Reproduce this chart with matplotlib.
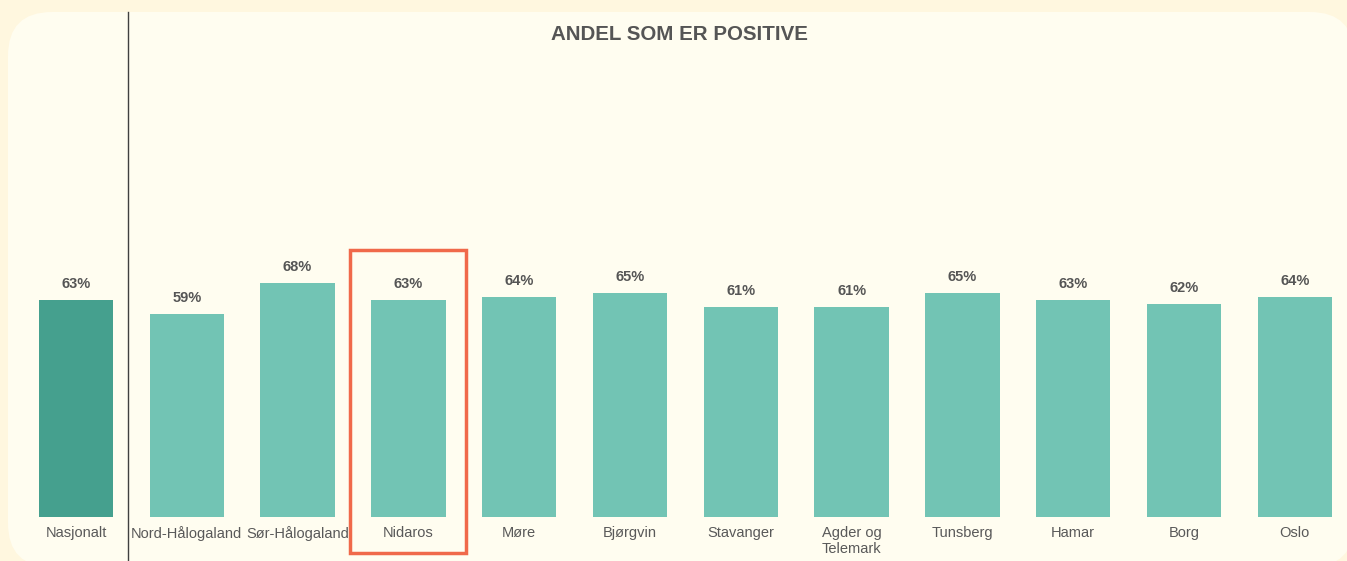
import matplotlib.pyplot as plt
from matplotlib.patches import FancyBboxPatch, Rectangle
from matplotlib.transforms import IdentityTransform, blended_transform_factory

plt.rcParams['font.family'] = ['Liberation Sans', 'DejaVu Sans']

categories = ['Nasjonalt', 'Nord-Hålogaland', 'Sør-Hålogaland', 'Nidaros', 'Møre',
              'Bjørgvin', 'Stavanger', 'Agder og\nTelemark', 'Tunsberg', 'Hamar',
              'Borg', 'Oslo']
values = [63, 59, 68, 63, 64, 65, 61, 61, 65, 63, 62, 64]
highlight = 'Nidaros'

dark_teal = '#45A08E'
light_teal = '#72C4B4'
text_grey = '#555555'

fig = plt.figure(figsize=(13.47, 5.61), dpi=100)
fig.patch.set_facecolor('#FFF7DF')

# rounded inner panel, drawn in pixel space
panel = FancyBboxPatch((8, -6), 1346, 555, boxstyle='round,pad=0,rounding_size=44',
                       transform=IdentityTransform(), facecolor='#FFFDF0',
                       edgecolor='none', zorder=-5)
fig.patches.append(panel)

ax = fig.add_axes([0, 44 / 561, 1, 344 / 561])
ax.set_zorder(1)
ax.set_facecolor('none')
ax.set_xlim(-76 / 110.8, (1347 - 76) / 110.8)
ax.set_ylim(0, 100)
for s in ax.spines.values():
    s.set_visible(False)
ax.set_xticks([])
ax.set_yticks([])

x = list(range(len(categories)))
colors = [dark_teal] + [light_teal] * (len(categories) - 1)
bars = ax.bar(x, values, width=0.67, color=colors, edgecolor='none', zorder=2)

for xi, v in zip(x, values):
    ax.annotate(f'{v}%', (xi, v), xytext=(0, 16), textcoords='offset pixels',
                ha='center', va='center', fontsize=10.5, fontweight='bold',
                color=text_grey)

for xi, name in zip(x, categories):
    ax.annotate(name, (xi, 0), xytext=(0, -9), textcoords='offset pixels',
                ha='center', va='top', fontsize=10.5, color='#595959',
                linespacing=1.2, annotation_clip=False)

# separator between national figure and the dioceses
trans = blended_transform_factory(ax.transData, fig.transFigure)
ax.plot([0.47, 0.47], [0, 549 / 561], transform=trans, color='#404040',
        linewidth=1.0, clip_on=False, zorder=3)

# frame around the highlighted diocese
hi = categories.index(highlight)
ax.add_patch(Rectangle((hi - 0.524, -10.5), 1.048, 88.1, fill=False,
                       edgecolor='#F0694A', linewidth=2.5, clip_on=False, zorder=4))

fig.text(679 / 1347, 1 - 34 / 561, 'ANDEL SOM ER POSITIVE', ha='center', va='center',
         fontsize=14.8, fontweight='bold', color=text_grey)

fig.savefig('out.png', dpi=100, facecolor=fig.get_facecolor())
